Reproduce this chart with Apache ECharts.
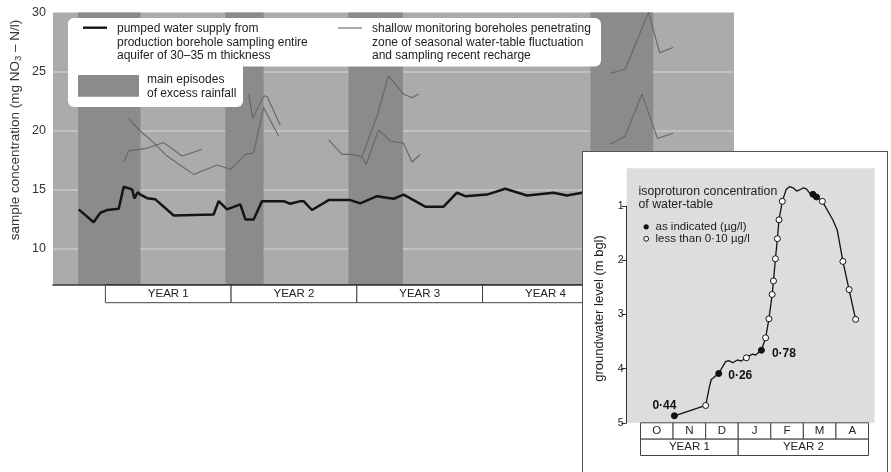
<!DOCTYPE html>
<html><head><meta charset="utf-8">
<script src="https://cdn.jsdelivr.net/npm/echarts@6.0.0/dist/echarts.min.js"></script>
<style>
html,body{margin:0;padding:0;background:#fff;width:891px;height:472px;overflow:hidden;}
#main{position:absolute;left:0;top:0;width:891px;height:472px;}
#insetWrap{position:absolute;left:582px;top:151px;width:306px;height:330px;border:1.5px solid #555;box-sizing:border-box;background:#fff;}
#inset{position:absolute;left:0;top:0;width:303px;height:327px;}
</style></head>
<body>
<div id="main"></div>
<div id="insetWrap"><div id="inset"></div></div>
<script>
// ---------- MAIN CHART DATA (x = months from start of YEAR 1) ----------
const yTickLabels = [10, 15, 20, 25, 30];
const yearLabels = ['YEAR 1', 'YEAR 2', 'YEAR 3', 'YEAR 4'];
const yearStarts = [0, 12, 24, 36];
const rainfallBands = [[-2.6, 3.35], [11.45, 15.1], [23.2, 28.4], [46.3, 52.3]];

const pumpedMonths = [-2.55,-1.12,-0.48,0.16,1.27,1.75,2.55,2.77,3.08,3.34,3.98,4.77,6.52,10.33,10.81,11.61,12.88,13.36,14.15,14.95,17.01,17.65,18.61,18.92,19.72,21.31,23.38,24.33,25.93,27.51,28.46,30.53,32.28,33.56,34.35,36.42,38.17,40.24,42.78,44.05,45.49];
const pumpedValues = [13.35,12.27,13.07,13.29,13.4,15.27,15.04,14.28,14.8,14.6,14.3,14.2,12.84,12.92,14.05,13.35,13.77,12.5,12.5,14.05,14.05,13.83,14.05,14.05,13.3,14.14,14.14,13.86,14.47,14.25,14.6,13.58,13.58,14.76,14.47,14.6,15.1,14.53,14.76,14.53,14.76];

// shallow monitoring boreholes (separate sampled runs)
const shallowHighMonths = [2.22,2.70,3.34,4.61,5.88,8.43,10.66,11.93,13.36,14.15,15.1,16.53];
const shallowHighValues = [21.03,20.55,19.98,19.0,17.86,16.31,17.1,16.74,18.0,18.14,21.97,19.56];
const shallowLowMonths = [1.75,2.22,3.97,5.56,7.32,7.79,9.22];
const shallowLowValues = [17.34,18.3,18.52,19.0,17.86,18.0,18.43];
const shallowY2Months = [13.68,14.06,15.1,15.43,16.7];
const shallowY2Values = [23.1,21.06,22.95,22.9,20.47];
const shallowY3aMonths = [21.31,22.58,23.38,24.49,25.93,27.02,28.46,29.26,29.9];
const shallowY3aValues = [19.22,18.0,18.0,17.81,21.25,24.64,23.1,22.8,23.1];
const shallowY3bMonths = [24.49,24.9,26.08,27.19,28.46,29.26,30.06];
const shallowY3bValues = [17.81,17.17,20.07,19.14,18.94,17.36,18.0];
const shallowY5aMonths = [48.19,49.62,51.84,52.9,54.18];
const shallowY5aValues = [24.87,25.2,30.0,26.6,27.05];
const shallowY5bMonths = [48.19,49.62,51.21,52.7,54.18];
const shallowY5bValues = [18.86,19.56,23.1,19.34,19.79];

// ---------- INSET DATA (x = months from 1 October, YEAR 1) ----------
const insetMonthLabels = ['O','N','D','J','F','M','A'];
const insetYearLabels = ['YEAR 1','YEAR 2'];
const insetYearSpans = [[0,3],[3,7]];
const levelTicks = [1,2,3,4,5];
const insetMonths = [1.04,2.0,2.12,2.17,2.40,2.61,2.70,2.83,2.97,3.09,3.25,3.35,3.44,3.53,3.71,3.84,3.94,4.04,4.08,4.14,4.20,4.25,4.35,4.47,4.57,4.68,4.79,4.88,5.0,5.09,5.19,5.29,5.40,5.58,5.90,6.04,6.21,6.40,6.60];
const insetLevels = [4.87,4.68,4.32,4.2,4.09,3.87,3.85,3.89,3.84,3.86,3.80,3.76,3.73,3.75,3.66,3.43,3.08,2.63,2.38,1.97,1.6,1.25,0.91,0.69,0.64,0.66,0.72,0.70,0.66,0.68,0.76,0.78,0.83,0.91,1.25,1.45,2.02,2.54,3.09];
// 'F' = concentration as indicated (filled), 'O' = less than 0·10 (open), '' = no sample
const insetSamples = ['F','O','','','F','','','','','','O','','','','F','O','O','O','O','O','O','O','O','','','','','','','','','F','F','O','','','O','O','O'];
const insetConc = ['0·44','','','','0·26','','','','','','','','','','0·78','','','','','','','','','','','','','','','','','','','','','','','',''];

const FONT = '"Liberation Sans", Arial, sans-serif';
const LIGHT = '#ababab', DARK = '#8b8b8b';

function pairs(xs, ys){ return xs.map((x,i)=>[x, ys[i]]); }

const shallowSets = [
  [shallowHighMonths, shallowHighValues],[shallowLowMonths, shallowLowValues],
  [shallowY2Months, shallowY2Values],[shallowY3aMonths, shallowY3aValues],
  [shallowY3bMonths, shallowY3bValues],[shallowY5aMonths, shallowY5aValues],
  [shallowY5bMonths, shallowY5bValues]
];

const main = echarts.init(document.getElementById('main'), null, {renderer:'canvas'});
const mainOption = {
  animation:false,
  textStyle:{fontFamily:FONT},
  grid:[
    {left:53, right:157, top:12.5, bottom:187.5, show:true, backgroundColor:LIGHT, borderWidth:0},
    {left:53, right:157, top:284.5, height:18.2, show:false}
  ],
  xAxis:[
    {gridIndex:0, type:'value', min:-5, max:60, axisLabel:{show:false}, axisTick:{show:false}, splitLine:{show:false},
     axisLine:{show:true, lineStyle:{color:'#333', width:1.5}}, z:5},
    {gridIndex:1, type:'value', min:-5, max:60, show:false}
  ],
  yAxis:[
    {gridIndex:0, type:'value', min:7, max:30,
     axisLine:{show:false},
     axisTick:{show:false, customValues:[10,15,20,25]},
     axisLabel:{customValues:yTickLabels, color:'#333', fontSize:12.5, margin:7},
     splitLine:{show:true, lineStyle:{color:'#c9c9c9', width:1.5}}},
    {gridIndex:1, type:'value', min:0, max:1, show:false}
  ],
  series:[
    {type:'line', xAxisIndex:0, yAxisIndex:0, data:pairs(pumpedMonths,pumpedValues), symbol:'none',
     lineStyle:{color:'#151515', width:2.5}, z:4,
     markArea:{silent:true, itemStyle:{color:DARK},
       data: rainfallBands.map(b=>[{xAxis:b[0]},{xAxis:b[1]}])}},
    ...shallowSets.map(s=>({type:'line', xAxisIndex:0, yAxisIndex:0, data:pairs(s[0],s[1]), symbol:'none',
      lineStyle:{color:'#666', width:1.1}, z:3})),
    {type:'line', xAxisIndex:1, yAxisIndex:1, data:[[0,0]], symbol:'none', lineStyle:{opacity:0},
     markArea:{silent:true, itemStyle:{color:'#fff', borderColor:'#444', borderWidth:1},
       label:{show:true, position:'inside', color:'#222', fontSize:11.5, fontFamily:FONT},
       data: yearLabels.map((n,i)=>[{name:n, xAxis:yearStarts[i], yAxis:0},{xAxis:yearStarts[i]+12, yAxis:1}])}}
  ],
  graphic:[
    {type:'text', x:15.5, y:130, rotation:Math.PI/2, z:10,
     style:{text:'{a|sample concentration (mg NO}{s|3}{a| – N/l)}', align:'center', verticalAlign:'middle',
       rich:{a:{fontSize:13.5, fill:'#333', fontFamily:FONT}, s:{fontSize:9.5, fill:'#333', fontFamily:FONT, padding:[6,0,0,0]}}}},
    {type:'rect', z:10, shape:{x:68, y:18, width:533, height:48.5, r:6}, style:{fill:'#fff'}},
    {type:'rect', z:10, shape:{x:68, y:18, width:175, height:89, r:6}, style:{fill:'#fff'}},
    {type:'line', z:11, shape:{x1:83, y1:27.7, x2:107, y2:27.7}, style:{stroke:'#151515', lineWidth:2.4}},
    {type:'rect', z:11, shape:{x:78, y:75, width:61, height:21.7}, style:{fill:DARK}},
    {type:'line', z:11, shape:{x1:338, y1:28, x2:362, y2:28}, style:{stroke:'#666', lineWidth:1.1}},
    {type:'text', z:11, x:117, y:29, style:{text:'pumped water supply from', fontSize:12, fill:'#222', fontFamily:FONT, verticalAlign:'middle'}},
    {type:'text', z:11, x:117, y:42.5, style:{text:'production borehole sampling entire', fontSize:12, fill:'#222', fontFamily:FONT, verticalAlign:'middle'}},
    {type:'text', z:11, x:117, y:56, style:{text:'aquifer of 30–35 m thickness', fontSize:12, fill:'#222', fontFamily:FONT, verticalAlign:'middle'}},
    {type:'text', z:11, x:147, y:80, style:{text:'main episodes', fontSize:12, fill:'#222', fontFamily:FONT, verticalAlign:'middle'}},
    {type:'text', z:11, x:147, y:93.5, style:{text:'of excess rainfall', fontSize:12, fill:'#222', fontFamily:FONT, verticalAlign:'middle'}},
    {type:'text', z:11, x:372, y:29, style:{text:'shallow monitoring boreholes penetrating', fontSize:12, fill:'#222', fontFamily:FONT, verticalAlign:'middle'}},
    {type:'text', z:11, x:372, y:42.5, style:{text:'zone of seasonal water-table fluctuation', fontSize:12, fill:'#222', fontFamily:FONT, verticalAlign:'middle'}},
    {type:'text', z:11, x:372, y:56, style:{text:'and sampling recent recharge', fontSize:12, fill:'#222', fontFamily:FONT, verticalAlign:'middle'}}
  ]
};
main.setOption(mainOption);

// ---------- INSET ----------
const inset = echarts.init(document.getElementById('inset'), null, {renderer:'canvas'});
const insetData = insetMonths.map((m,i)=>{
  const s = insetSamples[i];
  const item = {value:[m, insetLevels[i]]};
  if (s === 'F') item.itemStyle = {color:'#111', borderColor:'#111', borderWidth:1};
  else if (s === 'O') item.itemStyle = {color:'#fff', borderColor:'#111', borderWidth:1};
  else { item.symbol = 'none'; }
  if (insetConc[i]) item.label = {show:true, formatter:insetConc[i]};
  return item;
});
// label placement tweaks
insetData[0].label.position = 'top'; insetData[0].label.offset = [-10, 4];
insetData[4].label.position = 'right'; insetData[4].label.offset = [1, 2];
insetData[14].label.position = 'right'; insetData[14].label.offset = [2, 3];

const insetOption = {
  animation:false,
  textStyle:{fontFamily:FONT},
  grid:[
    {left:43.5, top:16.3, width:248, height:254.5, show:true, backgroundColor:'#dddddd', borderWidth:0},
    {left:43.5, top:54.2, width:248, height:216.6, show:false},
    {left:57.5, top:270.8, width:228, height:32.7, show:false}
  ],
  xAxis:[
    {gridIndex:0, type:'value', min:-0.43, max:7.18, show:false},
    {gridIndex:1, type:'value', min:0, max:1, show:false},
    {gridIndex:2, type:'value', min:0, max:7, show:false}
  ],
  yAxis:[
    {gridIndex:0, type:'value', inverse:true, min:0.3, max:5, show:false},
    {gridIndex:1, type:'value', inverse:true, min:1, max:5, interval:1,
     axisLine:{show:true, lineStyle:{color:'#333', width:1}},
     axisTick:{show:true, length:5, lineStyle:{color:'#333'}},
     axisLabel:{color:'#222', fontSize:10.5, margin:3},
     splitLine:{show:false}},
    {gridIndex:2, type:'value', min:0, max:2, show:false}
  ],
  series:[
    {type:'line', xAxisIndex:0, yAxisIndex:0, data:insetData, symbol:'circle', symbolSize:6, showSymbol:true,
     lineStyle:{color:'#111', width:1.3},
     label:{color:'#111', fontSize:12, fontWeight:'bold', fontFamily:FONT}},
    {type:'line', xAxisIndex:2, yAxisIndex:2, data:[[0,0]], symbol:'none', lineStyle:{opacity:0},
     markArea:{silent:true, itemStyle:{color:'#fff', borderColor:'#444', borderWidth:1},
       label:{show:true, position:'inside', color:'#222', fontSize:11.5, fontFamily:FONT},
       data: insetMonthLabels.map((n,i)=>[{name:n, xAxis:i, yAxis:1},{xAxis:i+1, yAxis:2}])
         .concat(insetYearLabels.map((n,i)=>[{name:n, xAxis:insetYearSpans[i][0], yAxis:0},{xAxis:insetYearSpans[i][1], yAxis:1}]))}}
  ],
  graphic:[
    {type:'text', x:55.5, y:39.2, z:10, style:{text:'isoproturon concentration', fontSize:12.3, fill:'#222', fontFamily:FONT, verticalAlign:'middle'}},
    {type:'text', x:55.5, y:52.5, z:10, style:{text:'of water-table', fontSize:12.3, fill:'#222', fontFamily:FONT, verticalAlign:'middle'}},
    {type:'circle', z:10, shape:{cx:63.2, cy:74.8, r:2.6}, style:{fill:'#111'}},
    {type:'circle', z:10, shape:{cx:63.2, cy:86.8, r:2.4}, style:{fill:'#fff', stroke:'#111', lineWidth:1}},
    {type:'text', x:72.5, y:75, z:10, style:{text:'as indicated (µg/l)', fontSize:11.5, fill:'#222', fontFamily:FONT, verticalAlign:'middle'}},
    {type:'text', x:72.5, y:87.3, z:10, style:{text:'less than 0·10 µg/l', fontSize:11.5, fill:'#222', fontFamily:FONT, verticalAlign:'middle'}},
    {type:'text', x:16.5, y:156.5, rotation:Math.PI/2, z:10, style:{text:'groundwater level (m bgl)', fontSize:13, fill:'#222', fontFamily:FONT, align:'center', verticalAlign:'middle'}}
  ]
};
inset.setOption(insetOption);
</script>
</body></html>
